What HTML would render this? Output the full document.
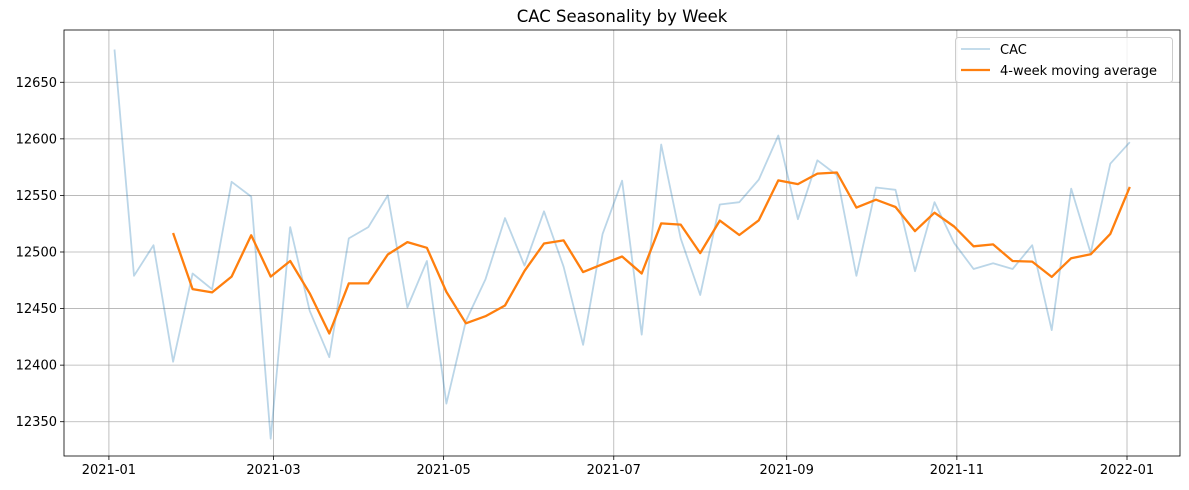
<!DOCTYPE html>
<html><head><meta charset="utf-8"><style>
html,body{margin:0;padding:0;background:#fff;}
svg{display:block;font-family:"DejaVu Sans","Liberation Sans",sans-serif;}
</style></head><body>
<svg id="chart" width="1189" height="490" xmlns="http://www.w3.org/2000/svg"></svg>
<script>
const startDate = "2021-01-03";
const cacValues = [12679,12479,12506,12403,12481,12467,12562,12549,12335,12522,12448,12407,12512,12522,12550,12451,12492,12366,12439,12476,12530,12488,12536,12487,12418,12516,12563,12427,12595,12512,12462,12542,12544,12564,12603,12529,12581,12568,12479,12557,12555,12483,12544,12508,12485,12490,12485,12506,12431,12556,12499,12578,12597];
const yTicks = [12350,12400,12450,12500,12550,12600,12650];
const xTickLabels = ["2021-01","2021-03","2021-05","2021-07","2021-09","2021-11","2022-01"];
const maWindow = 4;

const NS="http://www.w3.org/2000/svg";
const svg=document.getElementById('chart');
const L=64,R=1180,T=30,B=456;
const yMin=12319.7,yMax=12696.2;
const base=Date.UTC(2021,0,1), dayMs=86400000;
const dMin=-16.1,dMax=384;
function yS(v){return B-(v-yMin)/(yMax-yMin)*(B-T);}
function xDays(d){return L+(d-dMin)/(dMax-dMin)*(R-L);}
function xDate(s){const p=s.split('-').map(Number);return xDays((Date.UTC(p[0],p[1]-1,p[2]||1)-base)/dayMs);}
function mk(tag,attrs,parent){const e=document.createElementNS(NS,tag);for(const k in attrs)e.setAttribute(k,attrs[k]);(parent||svg).appendChild(e);return e;}

xTickLabels.forEach(lbl=>{
  const x=xDate(lbl);
  const g=mk('line',{x1:x,x2:x,y1:T,y2:B,stroke:'#b0b0b0','stroke-width':0.8});
  
  
  const t=mk('line',{x1:x,x2:x,y1:B,y2:B+4,stroke:'#000','stroke-width':0.8});
  
  
  const tx=mk('text',{x:x,y:B+18,'font-size':13,'text-anchor':'middle',fill:'#000'});
  tx.textContent=lbl;
  
  
});
yTicks.forEach(v=>{
  const y=yS(v);
  const g=mk('line',{x1:L,x2:R,y1:y,y2:y,stroke:'#b0b0b0','stroke-width':0.8});
  
  
  const t=mk('line',{x1:L-4,x2:L,y1:y,y2:y,stroke:'#000','stroke-width':0.8});
  
  
  const tx=mk('text',{x:L-7,y:y+4.5,'font-size':13,'text-anchor':'end',fill:'#000'});
  tx.textContent=v;
  
  
});

const sp=startDate.split('-').map(Number);
const d0=(Date.UTC(sp[0],sp[1]-1,sp[2])-base)/dayMs;
const cacPts=cacValues.map((v,i)=>xDays(d0+7*i).toFixed(1)+','+yS(v).toFixed(1)).join(' ');
const cacLine=mk('polyline',{points:cacPts,fill:'none',stroke:'#1f77b4','stroke-opacity':0.3,'stroke-width':1.8,'stroke-linejoin':'round'});


const maPts=[];
for(let i=maWindow-1;i<cacValues.length;i++){
  let s=0;for(let j=i-maWindow+1;j<=i;j++)s+=cacValues[j];
  maPts.push(xDays(d0+7*i).toFixed(1)+','+yS(s/maWindow).toFixed(1));
}
const maLine=mk('polyline',{points:maPts.join(' '),fill:'none',stroke:'#ff7f0e','stroke-width':2.3,'stroke-linejoin':'round'});



const fr=mk('rect',{x:L,y:T,width:R-L,height:B-T,fill:'none',stroke:'#000','stroke-width':0.8});



const ti=mk('text',{x:(L+R)/2,y:22,'font-size':16.5,'text-anchor':'middle',fill:'#000'});
ti.textContent='CAC Seasonality by Week';



const lg=mk('g',{});


const lb=mk('rect',{x:955.5,y:37.5,width:217,height:45,rx:3,fill:'#fff','fill-opacity':0.8,stroke:'#ccc','stroke-width':1},lg);


const e1=mk('g',{},lg);


mk('line',{x1:961,x2:990,y1:49,y2:49,stroke:'#1f77b4','stroke-opacity':0.3,'stroke-width':1.8},e1);
const t1=mk('text',{x:1000,y:54,'font-size':13,fill:'#000'},e1);t1.textContent='CAC';
const e2=mk('g',{},lg);


mk('line',{x1:961,x2:990,y1:70,y2:70,stroke:'#ff7f0e','stroke-width':2.3},e2);
const t2=mk('text',{x:1000,y:75,'font-size':13,fill:'#000'},e2);t2.textContent='4-week moving average';
</script>
</body></html>
